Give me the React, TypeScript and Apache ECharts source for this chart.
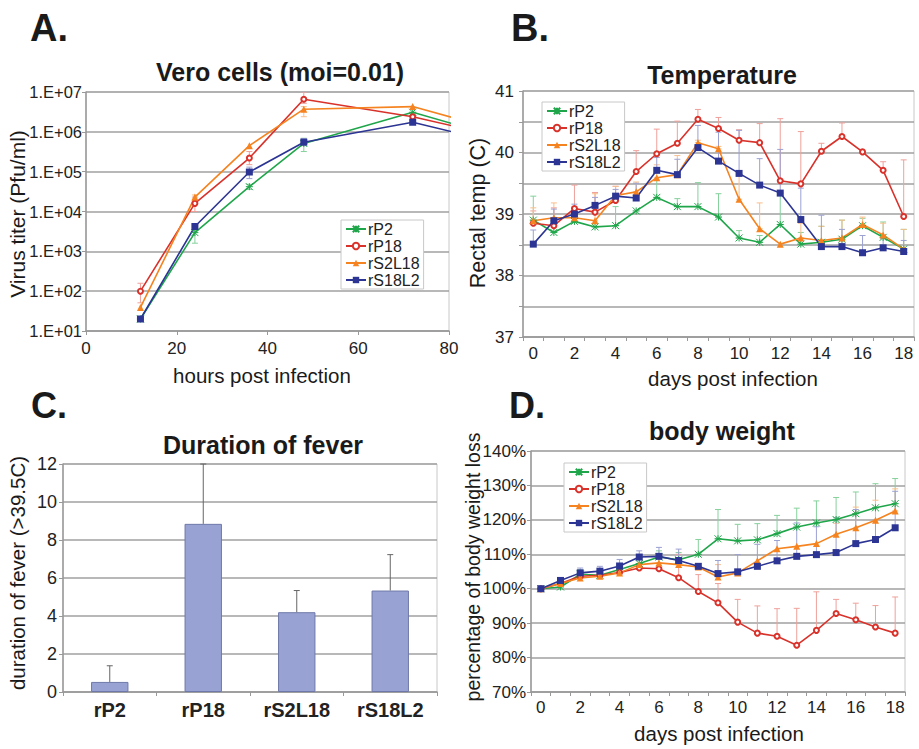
import React, { useEffect, useRef } from "react";
import * as echarts from "echarts";

// ---------- Data ----------
const seriesNames = ["rP2", "rP18", "rS2L18", "rS18L2"];
const colors = ["#1fa64a", "#d9322b", "#f5831f", "#2c3593"];
const errColors = ["#86d19c", "#efa09a", "#f8bf8c", "#9ba1d2"];

// Panel A: virus titer (Vero cells)
const hoursA = [12, 24, 36, 48, 72, 96];
const titerRP2 = [20, 2950, 42000, 510000, 3100000, 510000];
const titerRP18 = [100, 16000, 220000, 6600000, 2400000, 560000];
const titerRS2L18 = [39, 23000, 450000, 3700000, 4300000, 760000];
const titerRS18L2 = [20, 4200, 98000, 550000, 1740000, 380000];
// error bars [hour, low, high]
const errARP2 = [[24, 1600, 3400], [36, 36000, 48000], [48, 320000, 690000]];
const errARP18 = [[12, 51, 158], [24, 10000, 23000], [36, 150000, 320000], [48, 5200000, 10000000], [72, 2100000, 2800000]];
const errARS2L18 = [[24, 19000, 26000], [48, 2400000, 4300000]];
const errARS18L2 = [[36, 67000, 130000], [48, 480000, 680000]];

// Panel B: temperature
const days = ["0", "1", "2", "3", "4", "5", "6", "7", "8", "9", "10", "11", "12", "13", "14", "15", "16", "17", "18"];
const tempRP2 = [38.9, 38.7, 38.88, 38.79, 38.81, 39.05, 39.27, 39.12, 39.12, 38.95, 38.61, 38.54, 38.83, 38.51, 38.54, 38.59, 38.81, 38.62, 38.43];
const tempRP18 = [38.85, 38.81, 39.09, 39.03, 39.22, 39.69, 39.98, 40.15, 40.54, 40.39, 40.2, 40.16, 39.54, 39.49, 40.02, 40.26, 40.01, 39.71, 38.96];
const tempRS2L18 = [38.89, 38.94, 38.94, 38.89, 39.3, 39.36, 39.59, 39.64, 40.16, 40.06, 39.24, 38.76, 38.51, 38.61, 38.57, 38.61, 38.83, 38.66, 38.43];
const tempRS18L2 = [38.51, 38.89, 39.0, 39.14, 39.29, 39.26, 39.71, 39.64, 40.08, 39.86, 39.66, 39.47, 39.34, 38.91, 38.47, 38.47, 38.37, 38.45, 38.39];
// upper error tops (null = none)
const tempErrRP2 = [39.29, null, 39.1, null, 39.12, null, 39.55, 39.25, 39.51, 39.33, 38.73, 38.65, 39.34, 38.7, 38.8, 38.9, 38.93, 38.87, 38.75];
const tempErrRP18 = [39.05, 39.1, 39.47, 39.35, 39.45, 40.03, 40.38, 40.51, 40.7, 40.57, 40.37, 40.47, 40.55, 40.34, 40.15, 40.48, null, 39.85, 39.88];
const tempErrRS2L18 = [39.1, 39.18, 39.12, 39.33, 39.45, 39.52, 39.8, 39.95, 40.2, 40.1, 39.7, 39.18, null, 38.85, 38.8, 38.9, 38.95, 38.85, 38.75];
const tempErrRS18L2 = [38.74, 39.08, 39.16, 39.27, 39.4, 39.5, 39.92, 39.89, 40.44, 40.33, 40.36, 39.9, 40.05, 39.42, 38.98, 38.75, 38.65, 38.6, 38.57];

// Panel C: duration of fever
const feverCats = ["rP2", "rP18", "rS2L18", "rS18L2"];
const feverValues = [0.53, 8.85, 4.2, 5.34];
const feverErrTop = [1.38, 12.0, 5.34, 7.23];

// Panel D: body weight (%)
const weightRP2 = [100, 100.5, 104.2, 103.9, 105.6, 107.3, 109.2, 108.4, 110.0, 114.5, 113.9, 114.2, 116.0, 117.9, 119.1, 120.1, 121.8, 123.5, 124.7];
const weightRP18 = [100, 101.5, 103.6, 103.9, 104.7, 106.0, 105.8, 103.2, 99.2, 95.9, 90.3, 87.1, 86.2, 83.6, 87.9, 92.8, 91.0, 88.9, 87.1];
const weightRS2L18 = [100, 101.5, 103.1, 103.6, 104.6, 107.0, 107.5, 107.0, 106.3, 103.4, 104.6, 108.1, 111.6, 112.3, 113.1, 115.8, 117.7, 119.9, 122.6];
const weightRS18L2 = [100, 102.4, 104.6, 105.1, 106.6, 109.2, 109.4, 108.2, 106.5, 104.4, 104.9, 106.5, 108.1, 109.4, 109.9, 110.5, 113.1, 114.3, 117.7];
const weightErrRP2 = [null, null, 105.5, 105, 107, 108.5, 111, 110.5, 114.3, 123, 118.7, 118.9, 121.3, 123.4, 125.5, 126.5, 128.1, 130.5, 132];
const weightErrRP18 = [null, null, null, null, null, null, null, 110, 104.1, 101.5, 96.9, 95, 94.2, 94.3, 99.1, 96.9, 95.8, 95.1, 97.6];
const weightErrRS2L18 = [null, null, null, null, null, null, null, null, null, 107, null, null, null, null, null, 119, 123.7, 125.7, 129];
const weightErrRS18L2 = [null, null, 106, 106.5, 108.5, 111, 112, 111.5, null, 108.2, 109.9, 112.9, 114, 119.1, 118, 120.6, 123, 120, 128.3];

// ---------- helpers ----------
const FONT = "Liberation Sans, Arial, sans-serif";
const symbols = ["path://M0,0L10,10M10,0L0,10M5,0L5,10M0,5L10,5", "emptyCircle", "triangle", "rect"];
const symbolSizes = [7, 5, 7, 7];

function errRender(color: string, cap: number) {
  return (params: any, api: any) => {
    const x = api.value(0);
    const lo = api.value(1);
    const hi = api.value(2);
    const p0 = api.coord([x, lo]);
    const p1 = api.coord([x, hi]);
    const st = { stroke: color, lineWidth: 1 };
    return {
      type: "group",
      children: [
        { type: "line", shape: { x1: p0[0], y1: p0[1], x2: p1[0], y2: p1[1] }, style: st },
        { type: "line", shape: { x1: p1[0] - cap, y1: p1[1], x2: p1[0] + cap, y2: p1[1] }, style: st },
        { type: "line", shape: { x1: p0[0] - cap, y1: p0[1], x2: p0[0] + cap, y2: p0[1] }, style: st },
      ],
    };
  };
}

function upErr(values: number[], tops: (number | null)[]) {
  const out: number[][] = [];
  tops.forEach((t, i) => {
    if (t !== null) out.push([i, values[i], t]);
  });
  return out;
}

function lineSeries(i: number, data: any[], gi: number) {
  return {
    type: "line",
    name: seriesNames[i],
    xAxisIndex: gi,
    yAxisIndex: gi,
    data,
    symbol: symbols[i],
    symbolSize: symbolSizes[i],
    showAllSymbol: true,
    lineStyle: { color: colors[i], width: 1.6 },
    itemStyle:
      i === 0
        ? { color: colors[i], borderColor: colors[i], borderWidth: 1 }
        : i === 1
        ? { color: colors[i], borderWidth: 1 }
        : { color: colors[i] },
    z: 5,
    clip: true,
  };
}

function errSeries(i: number, data: number[][], gi: number, cap = 3) {
  return {
    type: "custom",
    name: "err" + gi + "-" + i,
    xAxisIndex: gi,
    yAxisIndex: gi,
    data,
    encode: { x: 0, y: [1, 2] },
    renderItem: errRender(errColors[i], cap),
    z: 2,
    clip: true,
    silent: true,
  };
}

const labelStyle = { color: "#222", fontFamily: FONT, fontSize: 17 };
const gridLine = { show: true, lineStyle: { color: "#a0a0a0", width: 1.5 } };

function legendAt(left: number, top: number) {
  return {
    data: seriesNames,
    orient: "vertical",
    left,
    top,
    itemGap: 1,
    itemWidth: 20,
    itemHeight: 8,
    padding: [1, 4, 1, 4],
    borderColor: "#c8c8c8",
    borderWidth: 1,
    backgroundColor: "#fff",
    textStyle: { fontFamily: FONT, fontSize: 16, color: "#222", padding: [0, 0, 0, -3] },
    selectedMode: false,
  };
}

function txt(text: string, x: number, y: number, size: number, bold: boolean, rot = 0) {
  return {
    type: "text",
    x,
    y,
    rotation: rot,
    style: {
      text,
      fontFamily: FONT,
      fontSize: size,
      fontWeight: bold ? "bold" : "normal",
      fill: "#1a1a1a",
      align: "center",
      verticalAlign: "middle",
    },
    z: 10,
  };
}

export default function App() {
  const ref = useRef<HTMLDivElement>(null);
  useEffect(() => {
    if (!ref.current) return;
    const chart = echarts.init(ref.current, undefined, { renderer: "svg" });
    const aData = [titerRP2, titerRP18, titerRS2L18, titerRS18L2].map((arr) => arr.map((v, k) => [hoursA[k], v]));
    const aErr = [errARP2, errARP18, errARS2L18, errARS18L2];
    const bData = [tempRP2, tempRP18, tempRS2L18, tempRS18L2];
    const bErr = [tempErrRP2, tempErrRP18, tempErrRS2L18, tempErrRS18L2];
    const dData = [weightRP2, weightRP18, weightRS2L18, weightRS18L2];
    const dErr = [weightErrRP2, weightErrRP18, weightErrRS2L18, weightErrRS18L2];

    const series: any[] = [];
    for (let i = 0; i < 4; i++) {
      series.push(errSeries(i, aErr[i], 0));
      series.push(errSeries(i, upErr(bData[i], bErr[i]), 1));
      series.push(errSeries(i, upErr(dData[i], dErr[i]), 3));
    }
    series.push({
      type: "bar",
      name: "fever",
      xAxisIndex: 2,
      yAxisIndex: 2,
      data: feverValues,
      barWidth: "40%",
      itemStyle: { color: "#98a3d4", borderColor: "#6f79a9", borderWidth: 1 },
      z: 3,
    });
    series.push({
      type: "custom",
      name: "feverErr",
      xAxisIndex: 2,
      yAxisIndex: 2,
      data: feverValues.map((v, k) => [k, v, feverErrTop[k]]),
      encode: { x: 0, y: [1, 2] },
      renderItem: (params: any, api: any) => {
        const p0 = api.coord([api.value(0), api.value(1)]);
        const p1 = api.coord([api.value(0), api.value(2)]);
        const st = { stroke: "#666", lineWidth: 1 };
        return {
          type: "group",
          children: [
            { type: "line", shape: { x1: p0[0], y1: p0[1], x2: p1[0], y2: p1[1] }, style: st },
            { type: "line", shape: { x1: p1[0] - 3, y1: p1[1], x2: p1[0] + 3, y2: p1[1] }, style: st },
          ],
        };
      },
      z: 4,
    });
    for (let i = 0; i < 4; i++) {
      series.push(lineSeries(i, aData[i], 0));
      series.push(lineSeries(i, bData[i], 1));
      series.push(lineSeries(i, dData[i], 3));
    }

    chart.setOption({
      animation: false,
      backgroundColor: "#fff",
      textStyle: { fontFamily: FONT },
      grid: [
        { left: 86, top: 92, width: 363, height: 239, show: true, borderColor: "#c8c8c8", borderWidth: 1, backgroundColor: "#fff" },
        { left: 523, top: 91, width: 391, height: 246, show: true, borderColor: "#c8c8c8", borderWidth: 1, backgroundColor: "#fff" },
        { left: 63, top: 464, width: 374, height: 228, show: true, borderColor: "#c8c8c8", borderWidth: 1, backgroundColor: "#fff" },
        { left: 531, top: 451, width: 374, height: 241, show: true, borderColor: "#c8c8c8", borderWidth: 1, backgroundColor: "#fff" },
      ],
      xAxis: [
        {
          gridIndex: 0, type: "value", min: 0, max: 80, interval: 20,
          axisLine: { lineStyle: { color: "#999", width: 1.5 } },
          axisTick: { show: true, length: 4, lineStyle: { color: "#999" } },
          axisLabel: { ...labelStyle, margin: 9 },
          splitLine: { show: false },
        },
        {
          gridIndex: 1, type: "category", data: days, boundaryGap: true,
          axisLine: { lineStyle: { color: "#999", width: 1.5 } },
          axisTick: { show: true, interval: 0, length: 4, lineStyle: { color: "#999" } },
          axisLabel: { ...labelStyle, interval: 1, margin: 8 },
          splitLine: { show: false },
        },
        {
          gridIndex: 2, type: "category", data: feverCats, boundaryGap: true,
          axisLine: { lineStyle: { color: "#999", width: 1.5 } },
          axisTick: { show: true, interval: 0, length: 4, lineStyle: { color: "#999" } },
          axisLabel: { ...labelStyle, fontWeight: "bold", fontSize: 20, margin: 8 },
          splitLine: { show: false },
        },
        {
          gridIndex: 3, type: "category", data: days, boundaryGap: true,
          axisLine: { lineStyle: { color: "#999", width: 1.5 } },
          axisTick: { show: true, interval: 0, length: 4, lineStyle: { color: "#999" } },
          axisLabel: { ...labelStyle, interval: 1, margin: 7 },
          splitLine: { show: false },
        },
      ],
      yAxis: [
        {
          gridIndex: 0, type: "log", logBase: 10, min: 10, max: 10000000,
          axisLine: { show: true, lineStyle: { color: "#999", width: 1.5 } },
          axisTick: { show: true, length: 4, lineStyle: { color: "#999" } },
          axisLabel: {
            ...labelStyle, fontSize: 16.5, margin: 4,
            formatter: (v: number) => "1.E+" + String(Math.round(Math.log10(v))).padStart(2, "0"),
          },
          splitLine: gridLine,
          minorTick: { show: false },
        },
        {
          gridIndex: 1, type: "value", min: 37, max: 41, interval: 0.5,
          axisLine: { show: true, lineStyle: { color: "#999", width: 1.5 } },
          axisTick: { show: true, length: 4, lineStyle: { color: "#999" } },
          axisLabel: { ...labelStyle, margin: 9, formatter: (v: number) => (Math.abs(v - Math.round(v)) < 1e-6 ? String(Math.round(v)) : "") },
          splitLine: gridLine,
        },
        {
          gridIndex: 2, type: "value", min: 0, max: 12, interval: 2,
          axisLine: { show: true, lineStyle: { color: "#999", width: 1.5 } },
          axisTick: { show: true, length: 4, lineStyle: { color: "#999" } },
          axisLabel: { ...labelStyle, fontSize: 18, margin: 6 },
          splitLine: gridLine,
        },
        {
          gridIndex: 3, type: "value", min: 70, max: 140, interval: 10,
          axisLine: { show: true, lineStyle: { color: "#999", width: 1.5 } },
          axisTick: { show: true, length: 4, lineStyle: { color: "#999" } },
          axisLabel: { ...labelStyle, margin: 5, formatter: (v: number) => v + "%" },
          splitLine: gridLine,
        },
      ],
      legend: [legendAt(341, 220), legendAt(542, 102), legendAt(564, 463)],
      graphic: [
        txt("A.", 49, 28, 38, true),
        txt("B.", 530, 28, 38, true),
        txt("C.", 49, 405, 36, true),
        txt("D.", 527, 405, 36, true),
        txt("Vero cells (moi=0.01)", 280, 72, 25, true),
        txt("Temperature", 722, 75, 25, true),
        txt("Duration of fever", 263, 445, 25, true),
        txt("body weight", 722, 431, 25, true),
        txt("Virus titer (Pfu/ml)", 17, 214, 21, false, Math.PI / 2),
        txt("Rectal temp (C)", 478, 213, 21.5, false, Math.PI / 2),
        txt("duration of fever (>39.5C)", 17, 573, 20.5, false, Math.PI / 2),
        txt("percentage of body weight loss", 473, 567, 19.5, false, Math.PI / 2),
        txt("hours post infection", 262, 375, 20.5, false),
        txt("days post infection", 733, 378, 20.5, false),
        txt("days post infection", 719, 733, 20.5, false),
      ],
      series,
    });
    return () => chart.dispose();
  }, []);
  return <div ref={ref} style={{ position: "fixed", left: 0, top: 0, width: 919, height: 749 }} />;
}
